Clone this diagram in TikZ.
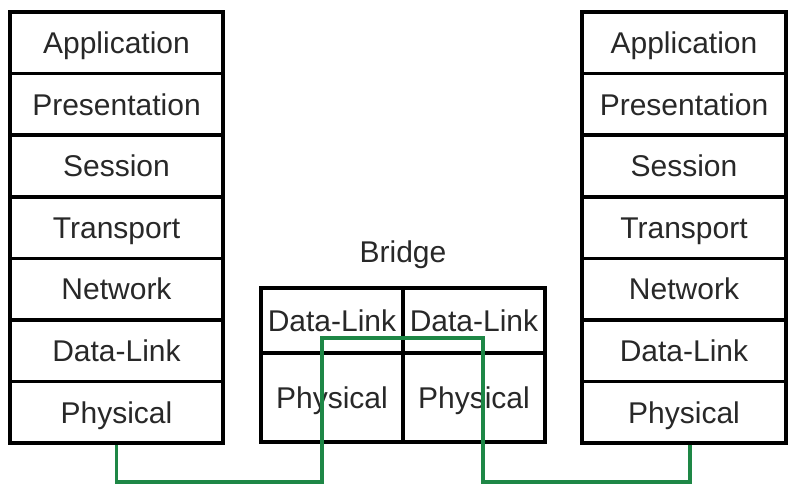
\documentclass[tikz,border=0pt]{standalone}
\usepackage{fontspec}
\setmainfont{Liberation Sans}
\definecolor{txt}{RGB}{40,40,40}
\definecolor{wire}{RGB}{30,135,70}
\begin{document}
\begin{tikzpicture}[x=1pt,y=-1pt,
  lbl/.style={inner sep=0pt, text height=21.5pt, text depth=0pt,
    font=\fontsize{30}{36}\selectfont, text=txt},
  lay/.style={lbl, draw=black, line width=3.5pt, minimum width=#1, minimum height=61.6pt},
  blay/.style={lbl, draw=black, line width=3.5pt, minimum width=142pt},
  wirestyle/.style={draw=wire, line width=3.5pt}]
\useasboundingbox (0,0) rectangle (788,487);
% left stack
\foreach \t/\n [count=\i from 0] in {Application/la,Presentation/lp,Session/ls,Transport/lt,Network/ln,Data-Link/ld,Physical/lphy}{
  \node[lay=213pt] (\n) at (116.5,{42.8+61.6*\i}) {\t};
}
% right stack
\foreach \t/\n [count=\i from 0] in {Application/ra,Presentation/rp,Session/rs,Transport/rt,Network/rn,Data-Link/rd,Physical/rphy}{
  \node[lay=204pt] (\n) at (684,{42.8+61.6*\i}) {\t};
}
% bridge
\node[lbl] (bridge) at (403,252) {Bridge};
\node[blay, minimum height=65pt] (bdl) at (332,320.5) {Data-Link};
\node[blay, minimum height=65pt] (bdr) at (474,320.5) {Data-Link};
\node[blay, minimum height=89pt] (bpl) at (332,397.5) {Physical};
\node[blay, minimum height=89pt] (bpr) at (474,397.5) {Physical};
% wire
\coordinate (w1) at (116.5,482);
\coordinate (w2) at (322,482);
\coordinate (w3) at (322,338);
\coordinate (w4) at (483,338);
\coordinate (w5) at (483,482);
\coordinate (w6) at (690,482);
\draw[wirestyle] (lphy.south) -- (w1) -- (w2) -- (w3) -- (w4) -- (w5) -- (w6) -- (w6 |- rphy.south);
\end{tikzpicture}
\end{document}
